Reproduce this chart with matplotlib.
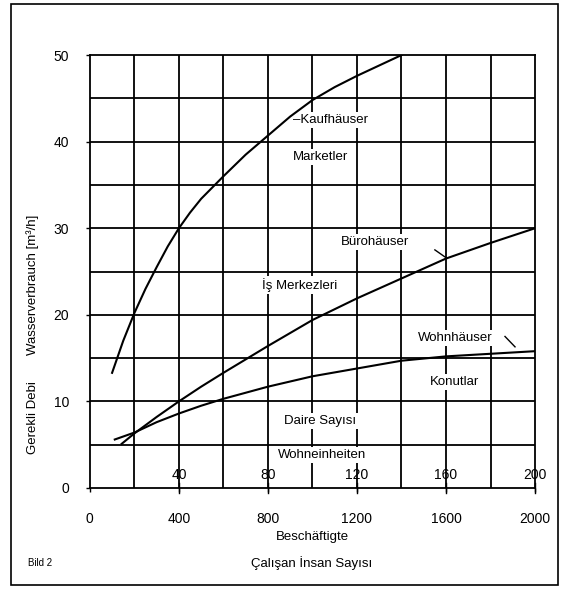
import numpy as np
import matplotlib
matplotlib.use('Agg')
import matplotlib.pyplot as plt
from matplotlib.patches import Rectangle

plt.rcParams['font.family'] = ['Liberation Sans', 'DejaVu Sans']

# curves (x = Beschäftigte, y = m3/h)
kauf_x = [100, 150, 200, 250, 300, 350, 400, 450, 500, 600, 700, 800, 900, 1000, 1100, 1200, 1300, 1400]
kauf_y = [13.3, 17.0, 20.2, 23.0, 25.5, 27.9, 30.0, 31.8, 33.4, 36.0, 38.5, 40.7, 42.9, 44.8, 46.3, 47.6, 48.8, 50.0]

buero_x = [143, 200, 300, 400, 500, 600, 800, 1000, 1200, 1400, 1600, 1800, 2000]
buero_y = [5.1, 6.3, 8.2, 10.0, 11.7, 13.3, 16.4, 19.4, 21.9, 24.2, 26.5, 28.3, 30.0]

wohn_x = [112, 200, 300, 400, 500, 600, 800, 1000, 1200, 1400, 1600, 1800, 2000]
wohn_y = [5.6, 6.4, 7.6, 8.6, 9.5, 10.3, 11.7, 12.9, 13.8, 14.7, 15.2, 15.5, 15.8]

x_ticks = [0, 400, 800, 1200, 1600, 2000]
we_ticks = [400, 800, 1200, 1600, 2000]
we_labels = ['40', '80', '120', '160', '200']
y_ticks = [0, 10, 20, 30, 40, 50]

fig = plt.figure(figsize=(5.65, 5.89), dpi=100)
ax = fig.add_axes([0.159, 0.1715, 0.788, 0.735])

# outer frame
fig.patches.append(Rectangle((0.02, 0.007), 0.968, 0.986, transform=fig.transFigure,
                             fill=False, edgecolor='black', linewidth=1.2))

ax.set_xlim(0, 2000)
ax.set_ylim(0, 50)
for gx in range(200, 2000, 200):
    ax.axvline(gx, color='black', linewidth=1.3, zorder=1)
for gy in range(5, 50, 5):
    ax.axhline(gy, color='black', linewidth=1.3, zorder=1)
for s in ax.spines.values():
    s.set_linewidth(1.3)

ax.plot(kauf_x, kauf_y, color='black', linewidth=1.5, zorder=3)
ax.plot(buero_x, buero_y, color='black', linewidth=1.5, zorder=3)
ax.plot(wohn_x, wohn_y, color='black', linewidth=1.5, zorder=3)

ax.set_xticks(x_ticks)
ax.set_yticks(y_ticks)
ax.tick_params(axis='both', labelsize=10, length=3, width=1, pad=14)
ax.tick_params(axis='y', pad=12)

# Wohneinheiten scale inside the plot
for xv, lab in zip(we_ticks, we_labels):
    ax.text(xv, 1.5, lab, ha='center', va='center', fontsize=10, zorder=4)
    ax.plot([xv, xv], [-0.6, 0.6], color='black', linewidth=1, clip_on=False)

box = dict(facecolor='white', edgecolor='none', pad=1.5)
ax.text(912, 42.5, '–Kaufhäuser', ha='left', va='center', fontsize=9.5, bbox=box, zorder=2)
ax.text(1034, 38.2, 'Marketler', ha='center', va='center', fontsize=9.5, bbox=box, zorder=2)
ax.text(944, 23.4, 'İş Merkezleri', ha='center', va='center', fontsize=9.5, bbox=box, zorder=2)
ax.text(1281, 28.4, 'Bürohäuser', ha='center', va='center', fontsize=9.5, bbox=box, zorder=2)
ax.plot([1550, 1600], [27.5, 26.6], color='black', linewidth=1, zorder=3)
ax.text(1640, 17.3, 'Wohnhäuser', ha='center', va='center', fontsize=9.5, bbox=box, zorder=2)
ax.plot([1865, 1910], [17.5, 16.3], color='black', linewidth=1, zorder=3)
ax.text(1640, 12.2, 'Konutlar', ha='center', va='center', fontsize=9.5, bbox=box, zorder=2)
ax.text(1034, 7.7, 'Daire Sayısı', ha='center', va='center', fontsize=9.5, bbox=box, zorder=2)
ax.text(1043, 3.8, 'Wohneinheiten', ha='center', va='center', fontsize=9.5, bbox=box, zorder=2)

# axis titles
fig.text(312 / 565, 1 - 537 / 589, 'Beschäftigte', ha='center', va='center', fontsize=9.5)
fig.text(312 / 565, 1 - 563 / 589, 'Çalışan İnsan Sayısı', ha='center', va='center', fontsize=9.5)
fig.text(40 / 565, 1 - 563 / 589, 'Bild 2', ha='center', va='center', fontsize=7)
fig.text(33 / 565, 1 - 285 / 589, 'Wasserverbrauch [m³/h]', ha='center', va='center',
         rotation=90, fontsize=9.5)
fig.text(33 / 565, 1 - 418 / 589, 'Gerekli Debi', ha='center', va='center',
         rotation=90, fontsize=9.5)

fig.savefig('out.png', dpi=100)
